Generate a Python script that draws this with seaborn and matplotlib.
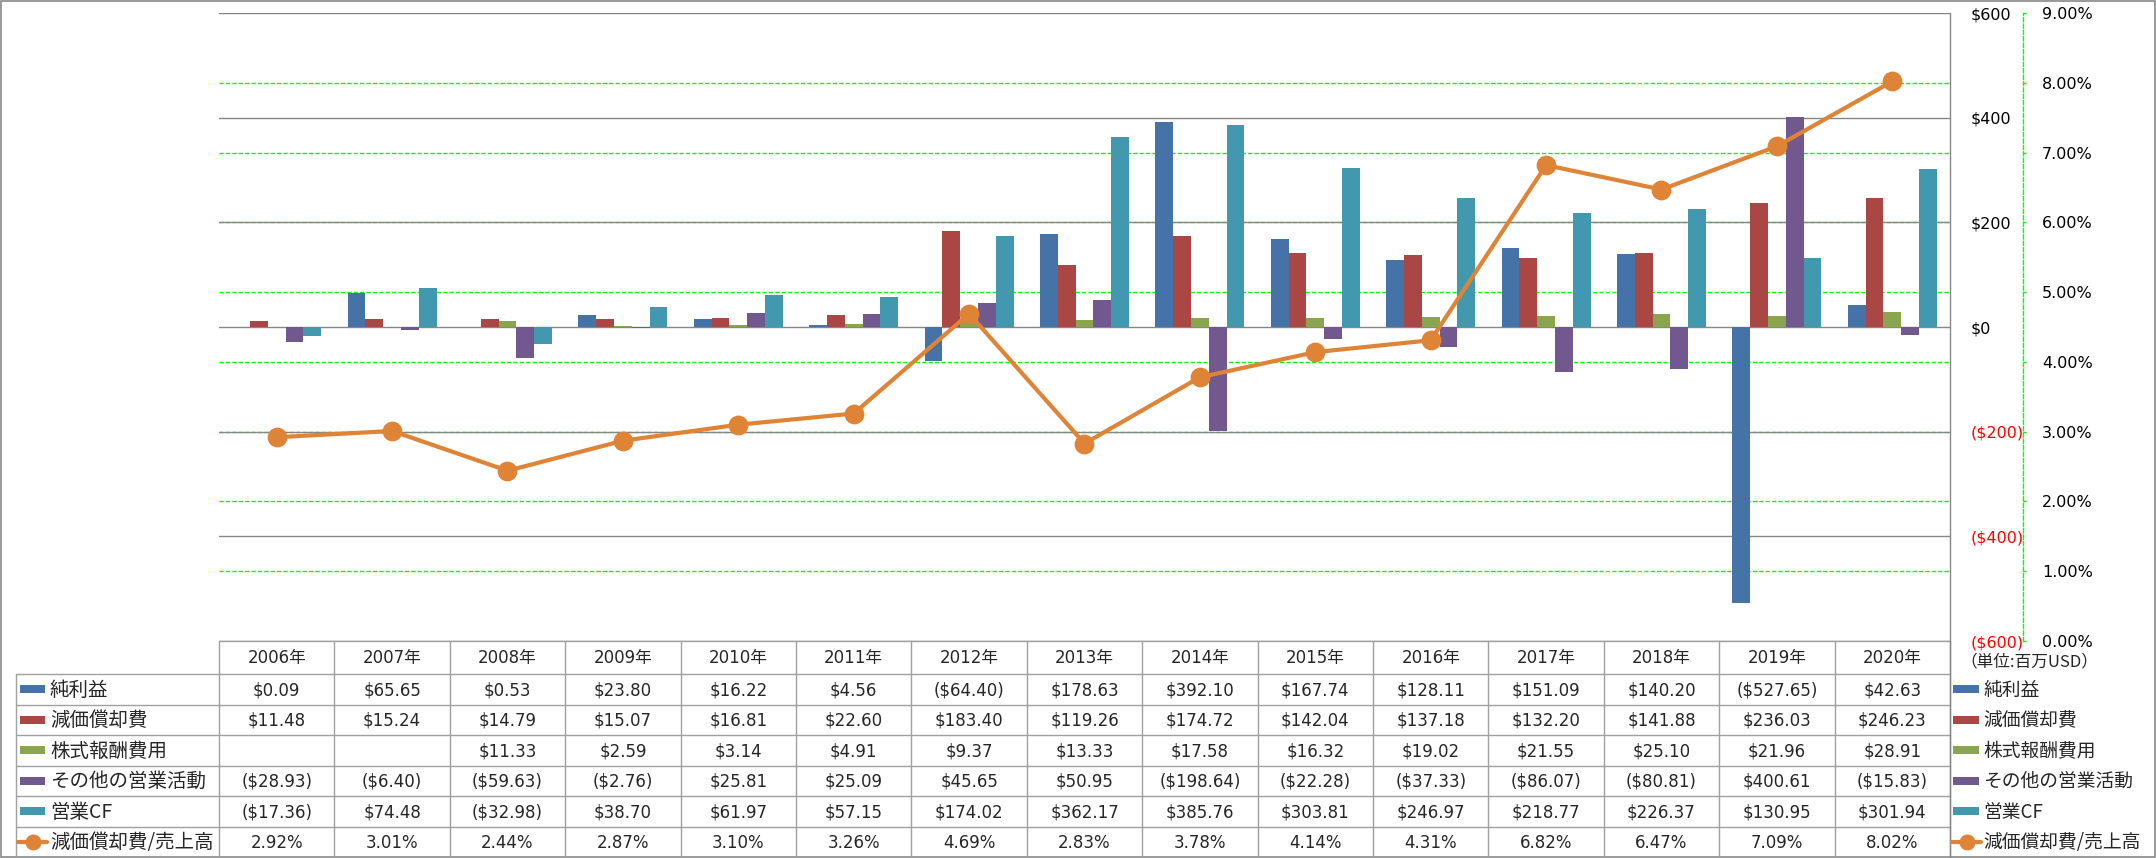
import numpy as np
import pandas as pd
import matplotlib
matplotlib.use("Agg")
import matplotlib.pyplot as plt
import seaborn as sns
from matplotlib.patches import Rectangle

# ---------------- data ----------------
years = ["2006年", "2007年", "2008年", "2009年", "2010年", "2011年", "2012年", "2013年",
         "2014年", "2015年", "2016年", "2017年", "2018年", "2019年", "2020年"]
net_income = [0.09, 65.65, 0.53, 23.80, 16.22, 4.56, -64.40, 178.63, 392.10, 167.74,
              128.11, 151.09, 140.20, -527.65, 42.63]
depreciation = [11.48, 15.24, 14.79, 15.07, 16.81, 22.60, 183.40, 119.26, 174.72, 142.04,
                137.18, 132.20, 141.88, 236.03, 246.23]
stock_comp = [np.nan, np.nan, 11.33, 2.59, 3.14, 4.91, 9.37, 13.33, 17.58, 16.32,
              19.02, 21.55, 25.10, 21.96, 28.91]
other_ops = [-28.93, -6.40, -59.63, -2.76, 25.81, 25.09, 45.65, 50.95, -198.64, -22.28,
             -37.33, -86.07, -80.81, 400.61, -15.83]
operating_cf = [-17.36, 74.48, -32.98, 38.70, 61.97, 57.15, 174.02, 362.17, 385.76, 303.81,
                246.97, 218.77, 226.37, 130.95, 301.94]
dep_ratio = [2.92, 3.01, 2.44, 2.87, 3.10, 3.26, 4.69, 2.83, 3.78, 4.14, 4.31, 6.82, 6.47,
             7.09, 8.02]

bar_names = ["純利益", "減価償却費", "株式報酬費用", "その他の営業活動", "営業CF"]
line_name = "減価償却費/売上高"
bar_colors = ["#4572A7", "#AA4643", "#89A54E", "#71588F", "#4198AF"]
line_color = "#DF8336"
money_ticks = [-600, -400, -200, 0, 200, 400, 600]
pct_ticks = [0, 1, 2, 3, 4, 5, 6, 7, 8, 9]
unit_text = "（単位:百万USD）"

bar_values = [net_income, depreciation, stock_comp, other_ops, operating_cf]

# ---------------- style ----------------
sns.set_style("white")
plt.rcParams["font.family"] = ["DejaVu Sans", "Noto Sans CJK JP"]
CJK = ["Noto Sans CJK JP", "DejaVu Sans"]
NUM = ["DejaVu Sans", "Noto Sans CJK JP"]

W, H, DPI = 2156, 858, 100
fig = plt.figure(figsize=(W / DPI, H / DPI), dpi=DPI)
fig.patch.set_facecolor("white")

# layout (pixels)
L, R, T, B = 219, 1950, 13, 641
LAB_L = 16
HDR_B = 674
ROW_H = 30.5
n = len(years)

# table/overlay axes in pixel coordinates
tax = fig.add_axes([0, 0, 1, 1], zorder=0)
tax.set_xlim(0, W)
tax.set_ylim(H, 0)
tax.axis("off")
tax.patch.set_alpha(0)

ax = fig.add_axes([L / W, 1 - B / H, (R - L) / W, (B - T) / H], zorder=1)
ax.patch.set_alpha(0)

# ---------------- bars ----------------
df = pd.DataFrame({"年": years})
for name, vals in zip(bar_names, bar_values):
    df[name] = vals
long = df.melt(id_vars="年", var_name="項目", value_name="値")
sns.barplot(data=long, x="年", y="値", hue="項目", order=years, hue_order=bar_names,
            palette=bar_colors, width=0.77, saturation=1, errorbar=None, legend=False,
            linewidth=0, ax=ax)

# ---------------- secondary axis + line ----------------
ax2 = ax.twinx()
ax2.set_zorder(2)
sns.pointplot(x=years, y=dep_ratio, order=years, color=line_color, markers="o",
              markersize=12, linewidth=3, errorbar=None, ax=ax2)

ax.set_xlim(-0.5, n - 0.5)
ax.set_ylim(money_ticks[0], money_ticks[-1])
ax.set_yticks(money_ticks)


def money(v):
    return f"${v:,.0f}" if v >= 0 else f"(${-v:,.0f})"


ax.set_yticklabels([money(v) for v in money_ticks])
ax.yaxis.tick_right()
ax.tick_params(axis="y", which="both", left=False, labelleft=False, right=False,
               labelright=True, length=0, pad=15, labelsize=11.5)
for tick, v in zip(ax.yaxis.get_major_ticks(), money_ticks):
    tick.label2.set_color("#FF0000" if v < 0 else "#000000")
ax.tick_params(axis="x", bottom=False, labelbottom=False)
ax.set_xlabel("")
ax.set_ylabel("")
ax.yaxis.grid(True, color="#878787", linewidth=1.0)
ax.set_axisbelow(True)
for s in ["left", "top", "bottom"]:
    ax.spines[s].set_visible(False)
ax.spines["right"].set_visible(True)
ax.spines["right"].set_color("#878787")
ax.spines["right"].set_linewidth(1.0)

ax2.set_ylim(pct_ticks[0], pct_ticks[-1])
ax2.set_yticks(pct_ticks)
ax2.set_yticklabels([f"{t:.2f}%" for t in pct_ticks])
ax2.set_xlim(-0.5, n - 0.5)
ax2.set_ylabel("")
ax2.set_xlabel("")
for s in ["left", "top", "bottom"]:
    ax2.spines[s].set_visible(False)
ax2.spines["right"].set_position(("outward", 73 * 72 / DPI))
ax2.spines["right"].set_color("#00FF00")
ax2.spines["right"].set_linestyle((0, (3, 1.6)))
ax2.spines["right"].set_linewidth(1.0)
ax2.tick_params(axis="y", direction="out", length=2.2, color="#00FF00", width=1.0,
                pad=11.5, labelsize=11.5, labelcolor="#000000")
ax2.tick_params(axis="x", bottom=False, labelbottom=False)

# green percent gridlines behind the bars (mapped into the money scale)
m0, m1 = ax.get_ylim()
p0, p1 = ax2.get_ylim()
for t in pct_ticks[1:-1]:
    y = m0 + (t - p0) / (p1 - p0) * (m1 - m0)
    ax.axhline(y, color="#00FF00", linewidth=1.0, linestyle=(0, (3, 1.6)), zorder=0.4)

# ---------------- data table ----------------
grid_c = "#A0A0A0"
col_edges = [L + i * (R - L) / n for i in range(n + 1)]
row_edges = [HDR_B + k * ROW_H for k in range(7)]
bottom = row_edges[-1]

tax.plot([L, R], [B, B], color=grid_c, lw=1.0)
for y in row_edges:
    tax.plot([LAB_L, R], [y, y], color=grid_c, lw=1.0)
for x in col_edges:
    tax.plot([x, x], [B, bottom], color=grid_c, lw=1.0)
tax.plot([LAB_L, LAB_L], [HDR_B, bottom], color=grid_c, lw=1.0)
tax.plot([R, R], [B, H], color="#878787", lw=1.0)

# header row
for i, yr in enumerate(years):
    cx = (col_edges[i] + col_edges[i + 1]) / 2
    tax.text(cx, (B + HDR_B) / 2 + 1, yr, ha="center", va="center", fontsize=12,
             family=NUM)


def fmt_money(v):
    if v is None or (isinstance(v, float) and np.isnan(v)):
        return ""
    return f"${v:,.2f}" if v >= 0 else f"(${-v:,.2f})"


rows = [[fmt_money(v) for v in vals] for vals in bar_values]
rows.append([f"{v:.2f}%" for v in dep_ratio])
row_names = bar_names + [line_name]

for r, (name, cells) in enumerate(zip(row_names, rows)):
    cy = (row_edges[r] + row_edges[r + 1]) / 2
    for i, txt in enumerate(cells):
        cx = (col_edges[i] + col_edges[i + 1]) / 2
        tax.text(cx, cy + 1, txt, ha="center", va="center", fontsize=12, family=NUM)
    # row label key + text
    if r < len(bar_names):
        tax.add_patch(Rectangle((20, cy - 4), 25, 8, color=bar_colors[r], lw=0))
        tax.add_patch(Rectangle((1953, cy - 4), 26, 8, color=bar_colors[r], lw=0))
    else:
        tax.plot([18, 47], [cy, cy], color=line_color, lw=3)
        tax.plot([32.5], [cy], marker="o", color=line_color, markersize=10.5)
        tax.plot([1952, 1981], [cy, cy], color=line_color, lw=3)
        tax.plot([1966.5], [cy], marker="o", color=line_color, markersize=10.5)
    tax.text(50, cy + 1, name, ha="left", va="center", fontsize=14, family=CJK)
    tax.text(1983, cy + 1, name, ha="left", va="center", fontsize=13.5, family=CJK)

tax.text(1960, 662, unit_text, ha="left", va="center", fontsize=12, family=CJK)

# figure border
tax.add_patch(Rectangle((0.5, 0.5), W - 1.5, H - 1.5, fill=False, edgecolor="#878787",
                        lw=1.2))

fig.savefig("out.png", dpi=DPI, facecolor="white")
